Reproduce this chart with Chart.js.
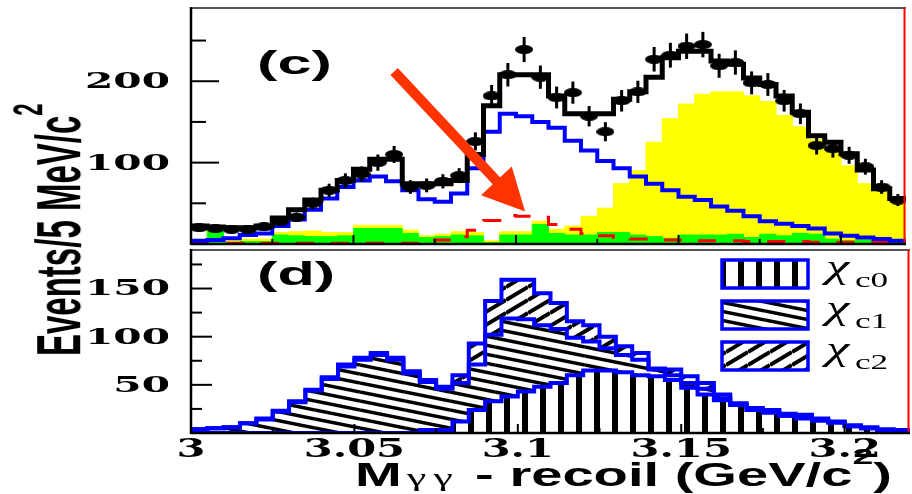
<!DOCTYPE html>
<html>
<head>
<meta charset="utf-8">
<script src="https://cdn.jsdelivr.net/npm/chart.js@4.4.0/dist/chart.umd.min.js"></script>
<style>
  html, body { margin: 0; padding: 0; background: #fff; }
  body { width: 912px; height: 494px; position: relative; overflow: hidden; }
  canvas { position: absolute; left: 0; }
  #cTop { top: 0; }
  #cBot { top: 248px; }
  #ytitle {
    position: absolute; left: 27px; top: 356px;
    font: bold 33px "Liberation Sans", Arial, sans-serif; line-height: 33px;
    white-space: nowrap; transform-origin: 0 0;
    transform: rotate(-90deg) scaleY(1.9);
  }
  #ytitle .sup { font-size: 22px; position: relative; top: -20px; }
  #xtitle {
    position: absolute; left: 355px; top: 458px;
    font: bold 33px "Liberation Sans", Arial, sans-serif; line-height: 33px;
    white-space: nowrap; transform-origin: 0 0; transform: scaleX(1.7);
  }
  #xtitle .gg { font: 26px "Liberation Serif", serif; letter-spacing: 4px; margin-left: 3px; }
  #xtitle .sup { font-size: 22px; position: relative; top: -22px; }
</style>
</head>
<body>
<canvas id="cTop" width="912" height="250" style="width:912px;height:250px"></canvas>
<canvas id="cBot" width="912" height="246" style="width:912px;height:246px"></canvas>
<div id="ytitle">Events/5 MeV/c<span class="sup">2</span></div>
<div id="xtitle">M<span class="gg">γγ</span> - recoil (GeV/c<span class="sup">2</span>)</div>
<script>
// 5 MeV bins from 3.00 to 3.22 GeV
const binLo = 3.0;
const binW = 0.005;

// panel (c)
const dataCounts = [20, 19, 18, 18, 21, 28, 33, 50, 66, 78, 86, 100, 110, 70, 72, 77, 84, 126, 182, 208, 239, 205, 180, 186, 157, 138, 176, 187, 227, 232, 243, 245, 219, 223, 198, 196, 176, 160, 121, 117, 109, 95, 70, 54];
const fitTotal = [22, 21, 20, 20, 22, 32, 42, 54, 66, 78, 92, 104, 104, 74, 74, 74, 78, 110, 170, 208, 208, 208, 182, 160, 160, 160, 178, 187, 205, 229, 237, 237, 225, 221, 204, 196, 182, 162, 133, 125, 111, 91, 68, 56];
const chicjShape = [4, 5, 7, 11, 13, 22, 30, 42, 56, 70, 78, 83, 77, 66, 55, 52, 62, 93, 138, 160, 157, 150, 143, 127, 115, 102, 93, 83, 74, 66, 58, 54, 46, 41, 34, 28, 25, 22, 19, 13, 10, 8, 6, 4];
const peakingBkg = [1, 1, 1, 1, 1, 1, 1, 1, 1, 1, 1, 1, 1, 1, 2, 5, 9, 17, 29, 35, 34, 33, 24, 18, 13, 10, 8, 6, 6, 5, 5, 4, 4, 4, 3, 3, 3, 3, 2, 2, 2, 2, 2, 2];
const bkgYellow = [6, 21, 4, 6, 6, 14, 15, 16, 14, 14, 23, 23, 23, 17, 10, 12, 15, 14, 4, 15, 15, 28, 18, 22, 34, 44, 74, 90, 125, 154, 172, 184, 187, 187, 182, 175, 158, 144, 128, 113, 96, 74, 64, 52];
const bkgGreen = [3, 19, 2, 3, 3, 11, 10, 9, 9, 10, 19, 19, 19, 13, 8, 9, 11, 10, 2, 11, 11, 24, 13, 11, 11, 14, 14, 11, 9, 7, 11, 11, 11, 12, 8, 12, 10, 13, 12, 6, 4, 5, 5, 4];

// panel (d), stacked components
const chic0 = [0, 0, 0, 0, 0, 0, 0, 0, 0, 0, 0, 0, 0, 0, 3, 3, 12, 24, 33, 38, 43, 48, 52, 60, 65, 65, 63, 60, 59, 55, 47, 40, 34, 29, 24, 21, 18, 15, 13, 11, 7, 5, 3, 2];
const chic1 = [4, 5, 6, 10, 14, 22, 32, 44, 56, 69, 76, 81, 76, 62, 50, 43, 40, 47, 69, 81, 75, 64, 56, 39, 30, 23, 18, 16, 7, 5, 5, 6, 2, 0, 0, 1, 0, 2, 0, 0, 0, 0, 0, 0];
const chic2 = [0, 0, 0, 0, 1, 1, 1, 1, 2, 2, 2, 2, 2, 2, 2, 2, 8, 22, 35, 40, 41, 33, 27, 17, 17, 12, 9, 7, 1, 6, 7, 6, 4, 2, 2, 2, 2, 2, 2, 1, 1, 1, 1, 1];

const xTickVals = [3, 3.05, 3.1, 3.15, 3.2];
const xTickText = ['3', '3.05', '3.1', '3.15', '3.2'];
const yTopLabels = [100, 200];
const yBotLabels = [50, 100, 150];
const legendSubs = ['c0', 'c1', 'c2'];

function histPts(vals) {
  const pts = vals.map((v, i) => ({x: binLo + i * binW, y: v}));
  pts.push({x: binLo + vals.length * binW, y: vals[vals.length - 1]});
  return pts;
}

function hist(vals, color, width, extra) {
  return Object.assign({
    type: 'line', data: histPts(vals), stepped: 'before', tension: 0,
    borderColor: color, borderWidth: width, pointRadius: 0, fill: false
  }, extra || {});
}

function line(ctx, x0, y0, x1, y1) {
  ctx.beginPath(); ctx.moveTo(x0, y0); ctx.lineTo(x1, y1); ctx.stroke();
}

function stretchText(ctx, txt, x, y, font, sx, align, base) {
  ctx.save();
  ctx.font = font; ctx.textAlign = align; ctx.textBaseline = base || 'alphabetic';
  ctx.translate(x, y); ctx.scale(sx, 1);
  ctx.fillText(txt, 0, 0);
  ctx.restore();
}

function drawFrame(chart, o) {
  const {ctx, chartArea: a, scales: {x, y}} = chart;
  ctx.save();
  ctx.strokeStyle = '#555'; ctx.lineWidth = 2;
  line(ctx, a.left, a.top, a.right, a.top);
  ctx.strokeStyle = '#ff0000';
  line(ctx, a.right - 1.5, a.top, a.right - 1.5, a.bottom);
  ctx.strokeStyle = '#000'; ctx.lineWidth = 2.5;
  line(ctx, a.left, a.top - 1, a.left, a.bottom + 1);
  line(ctx, a.left, a.bottom, a.right, a.bottom);
  ctx.lineWidth = 2;
  for (let v = o.yStep; v < y.max; v += o.yStep) {
    const py = y.getPixelForValue(v);
    const major = o.labels.includes(v);
    line(ctx, a.left, py, a.left + (major ? o.majLen : o.minLen), py);
  }
  for (let k = 1; k <= 8; k++) {
    const px = x.getPixelForValue(binLo + k * 0.025);
    line(ctx, px, a.bottom, px, a.bottom - (k % 2 === 0 ? 9 : 5));
  }
  ctx.fillStyle = '#000';
  o.labels.forEach(v => {
    stretchText(ctx, String(v), 170, y.getPixelForValue(v) + 1, 'bold 23px "DejaVu Serif"', 1.77, 'right', 'middle');
  });
  ctx.restore();
}

// ellipse marker for the data points
const dot = document.createElement('canvas');
dot.width = 18; dot.height = 9;
const dctx = dot.getContext('2d');
dctx.fillStyle = '#000';
dctx.beginPath(); dctx.ellipse(9, 4.5, 9, 4.5, 0, 0, 2 * Math.PI); dctx.fill();

const topPlugin = {
  id: 'topPanel',
  beforeDatasetDraw(chart, args) {
    if (args.index !== 0) return;
    const {ctx, scales: {x, y}} = chart;
    ctx.save();
    ctx.strokeStyle = '#000'; ctx.lineWidth = 3;
    dataCounts.forEach((n, i) => {
      const px = x.getPixelForValue(binLo + (i + 0.5) * binW);
      const e = Math.sqrt(n);
      line(ctx, px, y.getPixelForValue(n - e), px, y.getPixelForValue(n + e));
    });
    ctx.restore();
  },
  afterDatasetsDraw(chart) {
    const {ctx, chartArea: a, scales: {x, y}} = chart;
    drawFrame(chart, {yStep: 50, labels: yTopLabels, majLen: 28, minLen: 15});
    ctx.save();
    ctx.fillStyle = '#000';
    stretchText(ctx, '(c)', a.left + 66, 74, 'bold 34px "Liberation Sans"', 1.8, 'left');
    // arrow pointing at the peaking background
    const x0 = x.getPixelForValue(3.0625), y0 = y.getPixelForValue(212);
    const x1 = x.getPixelForValue(3.1028), y1 = y.getPixelForValue(40);
    const ang = Math.atan2(y1 - y0, x1 - x0);
    const bx = x1 - 42 * Math.cos(ang), by = y1 - 42 * Math.sin(ang);
    ctx.strokeStyle = ctx.fillStyle = '#ff3300';
    ctx.lineWidth = 10;
    line(ctx, x0, y0, bx + 2 * Math.cos(ang), by + 2 * Math.sin(ang));
    ctx.beginPath();
    ctx.moveTo(x1, y1);
    ctx.lineTo(bx + 21 * Math.sin(ang), by - 21 * Math.cos(ang));
    ctx.lineTo(bx - 21 * Math.sin(ang), by + 21 * Math.cos(ang));
    ctx.closePath(); ctx.fill();
    ctx.restore();
  }
};

new Chart(document.getElementById('cTop'), {
  type: 'line',
  data: {
    datasets: [
      {data: dataCounts.map((v, i) => ({x: binLo + (i + 0.5) * binW, y: v})), showLine: false,
       pointStyle: dot, pointRadius: 5, order: 0},
      hist(fitTotal, '#000', 5, {order: 1}),
      hist(chicjShape, '#0000ff', 4, {order: 2}),
      hist(peakingBkg, '#ff0000', 3, {order: 3, borderDash: [18, 17]}),
      hist(bkgGreen, '#00ff00', 1, {order: 4, fill: 'origin', backgroundColor: '#00ff00'}),
      hist(bkgYellow, '#ffff00', 1, {order: 5, fill: 'origin', backgroundColor: '#ffff00'})
    ]
  },
  options: {
    responsive: false, maintainAspectRatio: false, animation: false, events: [],
    layout: {padding: {left: 191, right: 2, top: 8, bottom: 4}},
    scales: {
      x: {type: 'linear', min: 3.0, max: 3.22, display: false},
      y: {min: 0, max: 290, display: false}
    },
    plugins: {legend: {display: false}, tooltip: {enabled: false}, filler: {drawTime: 'beforeDatasetsDraw'}}
  },
  plugins: [topPlugin]
});

// hatch patterns for panel (d)
function hatchTile(w, h, down, lw) {
  const c = document.createElement('canvas');
  c.width = w; c.height = h;
  const g = c.getContext('2d');
  g.strokeStyle = '#000'; g.lineWidth = lw;
  for (let k = -1; k <= 1; k++) {
    g.beginPath();
    if (down) { g.moveTo(0, k * h); g.lineTo(w, k * h + h); }
    else { g.moveTo(0, k * h + h); g.lineTo(w, k * h); }
    g.stroke();
  }
  return c;
}
const botCtx = document.getElementById('cBot').getContext('2d');
const stripe = document.createElement('canvas');
stripe.width = 18; stripe.height = 2;
stripe.getContext('2d').fillRect(0, 0, 6, 2);
const patV = botCtx.createPattern(stripe, 'repeat');
const patBack = botCtx.createPattern(hatchTile(45, 9, true, 3.5), 'repeat');
const patFwd = botCtx.createPattern(hatchTile(22, 13, false, 4), 'repeat');

const sum01 = chic0.map((v, i) => v + chic1[i]);
const sum012 = sum01.map((v, i) => v + chic2[i]);

const botPlugin = {
  id: 'botPanel',
  afterDatasetsDraw(chart) {
    const {ctx, chartArea: a, scales: {x}} = chart;
    drawFrame(chart, {yStep: 25, labels: yBotLabels, majLen: 21, minLen: 11});
    ctx.save();
    ctx.fillStyle = '#000';
    xTickVals.forEach((v, i) => {
      stretchText(ctx, xTickText[i], x.getPixelForValue(v), a.bottom + 17, 'bold 26px "DejaVu Serif"', 1.6, 'center', 'middle');
    });
    stretchText(ctx, '(d)', a.left + 66, 37, 'bold 34px "Liberation Sans"', 1.8, 'left');
    const pats = [patV, patBack, patFwd];
    legendSubs.forEach((s, i) => {
      const top = 12 + i * 41;
      ctx.fillStyle = '#fff'; ctx.fillRect(722, top, 86, 28);
      ctx.fillStyle = pats[i]; ctx.fillRect(722, top, 86, 28);
      ctx.strokeStyle = '#0000ff'; ctx.lineWidth = 3.5; ctx.strokeRect(722, top, 86, 28);
      ctx.fillStyle = '#000';
      stretchText(ctx, 'χ', 826, top + 18, 'italic 34px "Liberation Serif"', 1.55, 'left');
      stretchText(ctx, s, 855, top + 27, '22px "Liberation Serif"', 1.6, 'left');
    });
    ctx.restore();
  }
};

new Chart(botCtx, {
  type: 'line',
  data: {
    datasets: [
      hist(chic0, '#0000ff', 4, {fill: 'origin', backgroundColor: patV}),
      hist(sum01, '#0000ff', 4, {fill: '-1', backgroundColor: patBack}),
      hist(sum012, '#0000ff', 4, {fill: '-1', backgroundColor: patFwd})
    ]
  },
  options: {
    responsive: false, maintainAspectRatio: false, animation: false, events: [],
    layout: {padding: {left: 191, right: 2, top: 2, bottom: 61}},
    scales: {
      x: {type: 'linear', min: 3.0, max: 3.22, display: false},
      y: {min: 0, max: 190, display: false}
    },
    plugins: {legend: {display: false}, tooltip: {enabled: false}, filler: {drawTime: 'beforeDatasetsDraw'}}
  },
  plugins: [botPlugin]
});
</script>
</body>
</html>
